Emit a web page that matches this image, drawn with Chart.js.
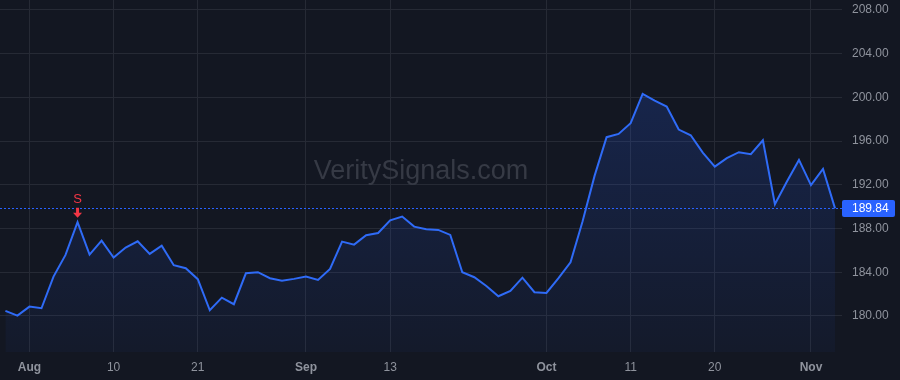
<!DOCTYPE html>
<html><head><meta charset="utf-8">
<script src="https://cdn.jsdelivr.net/npm/chart.js@4.4.1/dist/chart.umd.min.js"></script>
<style>html,body{margin:0;padding:0;background:#131722;overflow:hidden}#wrap{width:900px;height:380px}</style>
</head><body><div id="wrap"><canvas id="c" width="900" height="380"></canvas></div>
<script>
// Trading days Jul 28 2023 .. Nov 3 2023 (index positions)
const closes = [
  180.46, 180.03, 180.85, 180.70, 183.60, 185.58, 188.57, 185.61, 186.89, 185.34,
  186.25, 186.83, 185.67, 186.43, 184.64, 184.36, 183.36, 180.52, 181.67, 181.07,
  183.90, 184.00, 183.45, 183.23, 183.39, 183.60, 183.29, 184.30, 186.80, 186.52,
  187.38, 187.59, 188.75, 189.09, 188.17, 187.93, 187.87, 187.41, 184.00, 183.54,
  182.74, 181.80, 182.29, 183.50, 182.17, 182.10, 183.45, 184.91, 188.63, 192.81,
  196.35, 196.65, 197.63, 200.31, 199.70, 199.15, 197.05, 196.53, 194.94, 193.66,
  194.43, 194.98, 194.79, 196.07, 190.22, 192.29, 194.27, 191.96, 193.45, 189.84
];
const tickIndices = [2, 9, 16, 25, 32, 45, 52, 59, 67];
const tickLabels  = ['Aug', '10', '21', 'Sep', '13', 'Oct', '11', '20', 'Nov'];
const monthLabels = ['Aug', 'Sep', 'Oct', 'Nov'];
const yTicks = [180, 184, 188, 192, 196, 200, 204, 208];
const lastPrice = 189.84;
const signalIndex = 6;
const signalLabel = 'S';
const watermarkText = 'VeritySignals.com';

const FONT = "'Liberation Sans', Arial, sans-serif";
const points = closes.map((v, i) => ({x: i, y: v}));

const bgPlugin = {
  id: 'bg',
  beforeDraw(chart) {
    const c = chart.ctx;
    c.save(); c.fillStyle = '#131722'; c.fillRect(0, 0, chart.width, chart.height); c.restore();
  }
};
const watermark = {
  id: 'watermark',
  beforeDatasetsDraw(chart) {
    const c = chart.ctx, a = chart.chartArea;
    c.save();
    c.font = "27px " + FONT;
    c.fillStyle = '#363a45';
    c.textAlign = 'center'; c.textBaseline = 'middle';
    c.fillText(watermarkText, (a.left + a.right) / 2, 172);
    c.restore();
  }
};
const priceLine = {
  id: 'priceLine',
  afterDatasetsDraw(chart) {
    const c = chart.ctx, a = chart.chartArea, ys = chart.scales.y;
    const py = Math.round(ys.getPixelForValue(lastPrice)) + 0.5;
    c.save();
    c.strokeStyle = '#2962ff'; c.lineWidth = 1; c.setLineDash([2, 2]);
    c.beginPath(); c.moveTo(a.left, py); c.lineTo(a.right, py); c.stroke();
    c.setLineDash([]);
    c.fillStyle = '#2962ff';
    c.beginPath(); c.roundRect(a.right, py - 8.5, 53, 17, 2); c.fill();
    c.fillStyle = '#ffffff'; c.font = "12px " + FONT;
    c.textAlign = 'left'; c.textBaseline = 'middle';
    c.fillText(lastPrice.toFixed(2), a.right + 10, py + 0.5);
    c.restore();
  }
};
const signalMarker = {
  id: 'signal',
  afterDatasetsDraw(chart) {
    const c = chart.ctx, xs = chart.scales.x, ys = chart.scales.y;
    const x = xs.getPixelForValue(signalIndex);
    const y = ys.getPixelForValue(closes[signalIndex]);
    c.save();
    c.fillStyle = '#f23645';
    const tip = y - 4.5;
    c.beginPath();
    c.moveTo(x - 1.5, tip - 10);
    c.lineTo(x + 1.5, tip - 10);
    c.lineTo(x + 1.5, tip - 5);
    c.lineTo(x + 4.5, tip - 5);
    c.lineTo(x, tip);
    c.lineTo(x - 4.5, tip - 5);
    c.lineTo(x - 1.5, tip - 5);
    c.closePath(); c.fill();
    c.font = "13px " + FONT;
    c.textAlign = 'center'; c.textBaseline = 'middle';
    c.fillText(signalLabel, x, tip - 18);
    c.restore();
  }
};

const ctx = document.getElementById('c').getContext('2d');
new Chart(ctx, {
  type: 'line',
  data: {
    datasets: [{
      data: points,
      borderColor: '#2f6bf7',
      borderWidth: 2,
      pointRadius: 0,
      tension: 0,
      fill: 'start',
      backgroundColor: (context) => {
        const a = context.chart.chartArea;
        if (!a) return 'rgba(41,98,255,0.12)';
        const g = context.chart.ctx.createLinearGradient(0, a.top, 0, a.bottom);
        g.addColorStop(0, 'rgba(41,98,255,0.24)');
        g.addColorStop(1, 'rgba(41,98,255,0.04)');
        return g;
      }
    }]
  },
  options: {
    responsive: false,
    devicePixelRatio: 1,
    animation: false,
    layout: {padding: 0},
    plugins: {legend: {display: false}, tooltip: {enabled: false}},
    scales: {
      x: {
        type: 'linear',
        min: -0.45, max: 69.58,
        afterBuildTicks: (s) => { s.ticks = tickIndices.map(v => ({value: v})); },
        afterFit: (s) => { s.height = 28; s.paddingLeft = 0; s.paddingRight = 0; },
        grid: {color: '#262a35', drawTicks: false},
        border: {display: false},
        ticks: {
          autoSkip: false, maxRotation: 0, padding: 8,
          color: '#8f939d',
          font: (c) => ({family: FONT, size: 12,
            weight: (c.tick && monthLabels.includes(tickLabels[tickIndices.indexOf(c.tick.value)])) ? 'bold' : 'normal'}),
          callback: (v) => tickLabels[tickIndices.indexOf(v)]
        }
      },
      y: {
        type: 'linear',
        position: 'right',
        min: 176.7, max: 208.9,
        afterBuildTicks: (s) => { s.ticks = yTicks.map(v => ({value: v})); },
        afterFit: (s) => { s.width = 58; s.paddingTop = 0; s.paddingBottom = 0; },
        grid: {color: '#262a35', drawTicks: false},
        border: {display: false},
        ticks: {
          padding: 10, color: '#8f939d',
          font: {family: FONT, size: 12},
          callback: (v) => v.toFixed(2)
        }
      }
    }
  },
  plugins: [bgPlugin, watermark, priceLine, signalMarker]
});
</script></body></html>
